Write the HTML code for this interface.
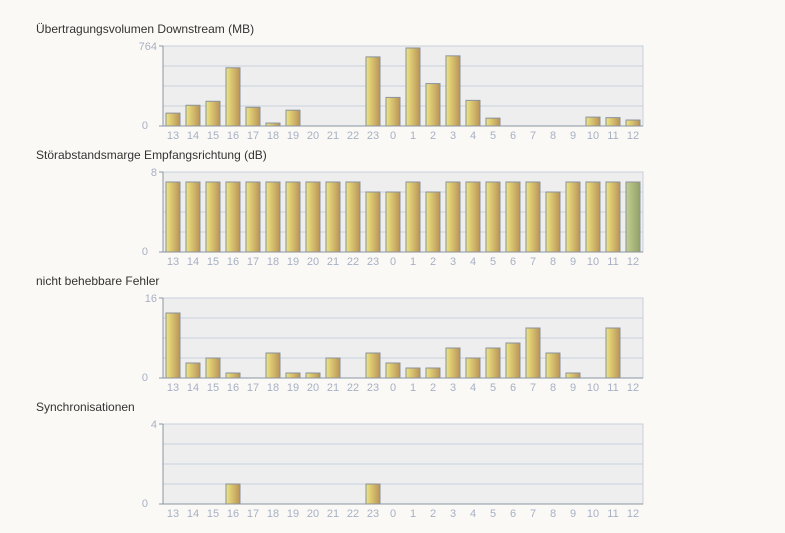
<!DOCTYPE html>
<html><head><meta charset="utf-8"><style>
body{margin:0;background:#faf9f5;width:785px;height:528px;overflow:hidden;font-family:"Liberation Sans",sans-serif}
</style></head><body>
<svg id="s" width="785" height="528">
<defs>
<linearGradient id="g" x1="0" x2="1"><stop offset="0" stop-color="#eee580"/><stop offset="1" stop-color="#b99458"/></linearGradient>
<linearGradient id="gg" x1="0" x2="1"><stop offset="0" stop-color="#c3d08e"/><stop offset="1" stop-color="#93a06a"/></linearGradient>
</defs>
</svg>
<script>
const hours=["13","14","15","16","17","18","19","20","21","22","23","0","1","2","3","4","5","6","7","8","9","10","11","12"];
const titles=["Übertragungsvolumen Downstream (MB)","Störabstandsmarge Empfangsrichtung (dB)","nicht behebbare Fehler","Synchronisationen"];
const maxima=[764,8,16,4];
const downstream=[123,198,236,556,179,28,151,0,0,0,660,273,745,405,670,245,75,0,0,0,0,85,80,57];
const snr=[7,7,7,7,7,7,7,7,7,7,6,6,7,6,7,7,7,7,7,6,7,7,7,7];
const errors=[13,3,4,1,0,5,1,1,4,0,5,3,2,2,6,4,6,7,10,5,1,0,10,0];
const syncs=[0,0,0,1,0,0,0,0,0,0,1,0,0,0,0,0,0,0,0,0,0,0,0,0];
const series=[downstream,snr,errors,syncs];
const svg=document.getElementById('s');
const NS="http://www.w3.org/2000/svg";
function mk(t,a,p){const e=document.createElementNS(NS,t);for(const k in a)e.setAttribute(k,a[k]);(p||svg).appendChild(e);return e;}
const X0=163,X1=643,H=80;
const tops=[46,172,298,424];
series.forEach((vals,c)=>{
  const top=tops[c],zero=top+H,max=maxima[c];
  const y=v=>zero-v/max*H;
  const x=i=>X0+(X1-X0)/hours.length*i;
  const g=mk('g',{});
  
  
  const t=mk('text',{x:36,y:top-13,'font-size':12,fill:'#333'},g);t.textContent=titles[c];
  
  
  mk('rect',{x:X0,y:top,width:X1-X0,height:H,fill:'#eeeeee',stroke:'#c8d0da'},g);
  for(let k=1;k<4;k++)mk('line',{x1:X0,x2:X1,y1:top+k*H/4,y2:top+k*H/4,stroke:'#c8d2de'},g);
  mk('line',{x1:X0,x2:X0,y1:top,y2:zero,stroke:'#8a96a4'},g);
  mk('line',{x1:X0-4,x2:X1,y1:zero,y2:zero,stroke:'#8a96a4'},g);
  mk('line',{x1:X0-4,x2:X0,y1:top,y2:top,stroke:'#8a96a4'},g);
  const a=mk('text',{x:X0-6,y:top+4,'font-size':11,fill:'#a7b0c4','text-anchor':'end'},g);a.textContent=max;
  
  
  const b=mk('text',{x:X0-15,y:zero+3,'font-size':11,fill:'#a7b0c4','text-anchor':'end'},g);b.textContent="0";
  
  
  vals.forEach((v,i)=>{
    const cx=x(i)+10;
    if(v>0){const r=mk('rect',{x:cx-7,y:y(v),width:14,height:zero-y(v),fill:(c==1&&i==23)?'url(#gg)':'url(#g)',stroke:'#8a929c','stroke-width':1},g);
      
      }
    const l=mk('text',{x:cx,y:zero+13,'font-size':11,fill:'#a7b0c4','text-anchor':'middle'},g);l.textContent=hours[i];
    
    
  });
});
</script>
</body></html>
